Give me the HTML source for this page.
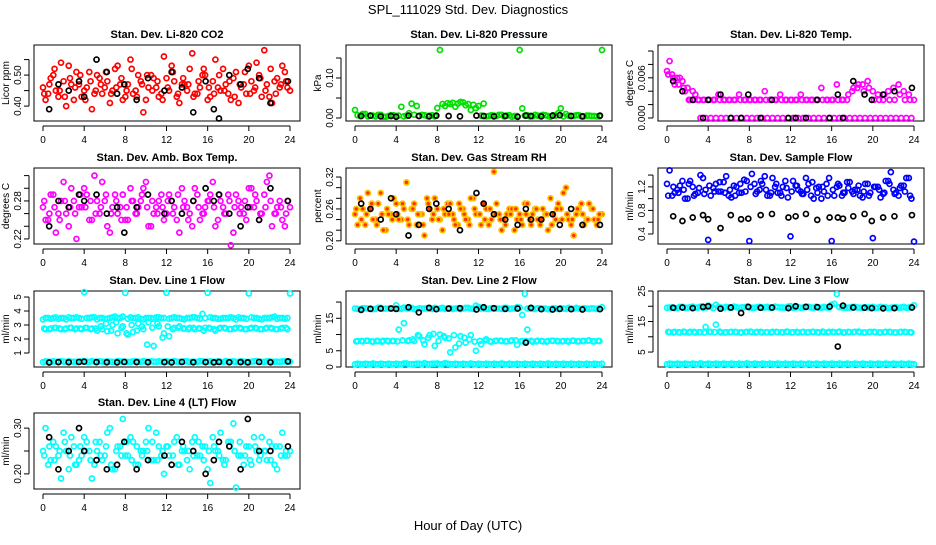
<!DOCTYPE html>
<html><head><meta charset="utf-8"><style>
body{margin:0;background:#fff}
svg text{font-family:"Liberation Sans",sans-serif}
</style></head><body>
<svg id="chart" width="936" height="540" viewBox="0 0 936 540" xmlns="http://www.w3.org/2000/svg">
<text x="468" y="14" text-anchor="middle" font-size="13">SPL_111029  Std. Dev. Diagnostics</text>
<text x="468" y="530" text-anchor="middle" font-size="13">Hour of Day (UTC)</text>
</svg>
<script>
const hoursA=[0,0.5,1,1.5,2,2.5,3,3.5,4,4.5,5,5.5,6,6.5,7,7.5,8,8.5,9,9.5,10,10.5,11,11.5,12,12.5,13,13.5,14,14.5,15,15.5,16,16.5,17,17.5,18,18.5,19,19.5,20,20.5,21,21.5,22,22.5,23,23.5,24];
const hoursB=[0.25,0.75,1.25,1.75,2.25,2.75,3.25,3.75,4.25,4.75,5.25,5.75,6.25,6.75,7.25,7.75,8.25,8.75,9.25,9.75,10.25,10.75,11.25,11.75,12.25,12.75,13.25,13.75,14.25,14.75,15.25,15.75,16.25,16.75,17.25,17.75,18.25,18.75,19.25,19.75,20.25,20.75,21.25,21.75,22.25,22.75,23.25,23.75];
const hoursC=[0.12,0.62,1.12,1.62,2.12,2.62,3.12,3.62,4.12,4.62,5.12,5.62,6.12,6.62,7.12,7.62,8.12,8.62,9.12,9.62,10.12,10.62,11.12,11.62,12.12,12.62,13.12,13.62,14.12,14.62,15.12,15.62,16.12,16.62,17.12,17.62,18.12,18.62,19.12,19.62,20.12,20.62,21.12,21.62,22.12,22.62,23.12,23.62];
const hoursK=[0.6,1.5,2.5,3.5,4,5.2,6.2,7.2,7.9,9.1,10.2,11.8,12.5,13.5,14.6,15.8,16.6,17.1,18.1,19.2,19.9,21.0,22.1,23.8];
const xTicks=[0,4,8,12,16,20,24];

const co2A=[0.46,0.44,0.50,0.43,0.48,0.53,0.42,0.47,0.45,0.51,0.44,0.49,0.46,0.41,0.52,0.47,0.43,0.55,0.45,0.48,0.42,0.50,0.46,0.44,0.49,0.53,0.43,0.47,0.45,0.57,0.44,0.50,0.42,0.48,0.46,0.52,0.44,0.49,0.41,0.47,0.53,0.45,0.50,0.58,0.43,0.48,0.46,0.51,0.45];
const co2B=[0.42,0.49,0.45,0.54,0.40,0.47,0.51,0.43,0.46,0.39,0.50,0.44,0.48,0.45,0.53,0.42,0.47,0.44,0.50,0.38,0.46,0.49,0.43,0.56,0.45,0.48,0.41,0.47,0.52,0.44,0.46,0.50,0.43,0.55,0.45,0.47,0.42,0.51,0.46,0.44,0.48,0.54,0.43,0.47,0.41,0.49,0.53,0.46];
const co2C=[0.44,0.47,0.52,0.45,0.43,0.49,0.46,0.50,0.42,0.48,0.45,0.47,0.51,0.44,0.46,0.49,0.45,0.52,0.43,0.47,0.50,0.45,0.48,0.42,0.46,0.51,0.44,0.49,0.47,0.43,0.48,0.52,0.46,0.44,0.50,0.45,0.48,0.43,0.47,0.51,0.44,0.46,0.49,0.45,0.52,0.44,0.47,0.48];
const co2K=[0.39,0.47,0.45,0.48,0.43,0.55,0.51,0.44,0.47,0.42,0.49,0.45,0.51,0.46,0.38,0.48,0.39,0.36,0.50,0.47,0.52,0.49,0.41,0.48];

const presA=[0.02,0.005,0.01,0.006,0.004,0.008,0.003,0.007,0.005,0.028,0.006,0.036,0.03,0.008,0.005,0.007,0.025,0.035,0.037,0.038,0.036,0.039,0.035,0.033,0.03,0.036,0.005,0.006,0.008,0.004,0.007,0.005,0.17,0.006,0.004,0.008,0.005,0.007,0.003,0.006,0.024,0.01,0.005,0.007,0.004,0.006,0.005,0.004,0.17];
const presB=[0.007,0.01,0.004,0.006,0.008,0.003,0.005,0.007,0.006,0.004,0.012,0.008,0.005,0.007,0.006,0.004,0.17,0.03,0.035,0.028,0.04,0.032,0.02,0.025,0.006,0.004,0.007,0.005,0.008,0.006,0.003,0.005,0.024,0.007,0.004,0.006,0.008,0.005,0.007,0.012,0.004,0.006,0.005,0.007,0.004,0.006,0.005,0.004];
const presK=[0.005,0.006,0.004,0.005,0.003,0.006,0.005,0.004,0.006,0.005,0.004,0.006,0.005,0.004,0.005,0.003,0.006,0.005,0.004,0.006,0.007,0.005,0.004,0.006];

const tempA=[0.007,0.0065,0.006,0.0055,0.0045,0.004,0.0027,0.0027,0.0027,0.0027,0.0035,0.0027,0.0027,0.0027,0.0035,0.0027,0.0027,0.0027,0.0027,0.004,0.0027,0.0027,0.0035,0.0027,0.0027,0.0027,0.0035,0.0027,0.0027,0.0027,0.0045,0.0027,0.0027,0.005,0.0027,0.0027,0.004,0.0045,0.005,0.0055,0.004,0.0035,0.0027,0.004,0.0045,0.005,0.004,0.0035,0.0027];
const tempB=[0.0085,0.005,0.006,0.004,0.0027,0.0035,0,0,0,0,0,0,0,0,0,0,0,0,0,0,0,0,0,0,0,0,0,0,0,0,0,0,0,0,0,0,0,0,0,0,0,0,0,0,0,0,0,0];
const tempC=[0.0065,0.006,0.005,0.0045,0.0027,0.0027,0.0027,0.0027,0.0027,0.0027,0.0027,0.0027,0.0027,0.0027,0.0027,0.0027,0.0027,0.0027,0.0027,0.0027,0.0027,0.0027,0.0027,0.0027,0.0027,0.0027,0.0027,0.0027,0.0027,0.0027,0.0027,0.0027,0.0027,0.0027,0.0027,0.0035,0.0045,0.005,0.004,0.0045,0.0027,0.0027,0.0035,0.0027,0.0027,0.0035,0.0027,0.0027];
const tempK=[0.0055,0.004,0.0027,0,0.0027,0.0035,0,0,0.0035,0,0.0027,0,0,0,0.0027,0,0.0035,0,0.0055,0.0035,0.0027,0.0035,0.004,0.0045];

const ambA=[0.27,0.25,0.29,0.26,0.31,0.24,0.28,0.27,0.30,0.25,0.32,0.26,0.28,0.23,0.29,0.27,0.25,0.30,0.26,0.28,0.31,0.24,0.27,0.29,0.26,0.28,0.25,0.30,0.27,0.24,0.29,0.26,0.28,0.31,0.25,0.27,0.29,0.23,0.28,0.26,0.30,0.27,0.25,0.29,0.32,0.26,0.28,0.24,0.27];
const ambB=[0.25,0.29,0.23,0.28,0.26,0.30,0.22,0.27,0.29,0.25,0.28,0.31,0.24,0.27,0.26,0.29,0.25,0.28,0.27,0.30,0.24,0.26,0.28,0.25,0.29,0.27,0.23,0.28,0.26,0.30,0.25,0.27,0.29,0.24,0.28,0.26,0.21,0.29,0.27,0.25,0.30,0.28,0.26,0.31,0.24,0.27,0.25,0.28];
const ambC=[0.28,0.26,0.27,0.25,0.28,0.27,0.26,0.29,0.27,0.28,0.26,0.27,0.29,0.26,0.28,0.25,0.27,0.28,0.26,0.29,0.27,0.28,0.26,0.27,0.28,0.26,0.29,0.27,0.25,0.28,0.27,0.26,0.28,0.27,0.29,0.26,0.28,0.27,0.26,0.28,0.27,0.29,0.26,0.27,0.28,0.26,0.27,0.26];
const ambK=[0.24,0.28,0.27,0.29,0.28,0.29,0.26,0.27,0.23,0.27,0.29,0.26,0.28,0.26,0.28,0.30,0.28,0.29,0.26,0.24,0.27,0.25,0.30,0.28];

const rhA=[0.25,0.28,0.23,0.26,0.24,0.29,0.22,0.25,0.27,0.24,0.31,0.26,0.23,0.25,0.28,0.24,0.26,0.22,0.27,0.25,0.23,0.26,0.24,0.28,0.25,0.27,0.23,0.33,0.25,0.24,0.26,0.22,0.25,0.27,0.24,0.26,0.23,0.25,0.28,0.24,0.26,0.30,0.23,0.25,0.27,0.24,0.26,0.23,0.25];
const rhB=[0.23,0.26,0.29,0.24,0.27,0.22,0.25,0.28,0.24,0.26,0.23,0.27,0.25,0.21,0.26,0.28,0.24,0.25,0.27,0.23,0.26,0.24,0.28,0.25,0.23,0.26,0.24,0.27,0.22,0.25,0.26,0.24,0.23,0.27,0.25,0.24,0.26,0.22,0.25,0.27,0.29,0.24,0.21,0.26,0.23,0.27,0.24,0.25];
const rhC=[0.26,0.24,0.25,0.27,0.23,0.25,0.26,0.24,0.25,0.27,0.24,0.26,0.25,0.23,0.27,0.25,0.24,0.26,0.25,0.24,0.27,0.25,0.23,0.26,0.25,0.24,0.26,0.25,0.24,0.23,0.25,0.26,0.24,0.25,0.23,0.26,0.24,0.25,0.23,0.26,0.24,0.25,0.24,0.26,0.25,0.24,0.26,0.24];
const rhK=[0.27,0.26,0.24,0.28,0.25,0.21,0.23,0.26,0.27,0.26,0.22,0.29,0.27,0.25,0.24,0.23,0.26,0.24,0.24,0.25,0.23,0.26,0.23,0.23];

const sfA=[1.25,1.05,1.15,1.30,1.00,1.20,1.10,1.35,0.30,1.18,1.12,1.28,1.05,1.22,1.10,1.32,0.28,1.25,1.15,1.38,1.05,1.20,1.10,1.30,0.36,1.22,1.12,1.35,1.05,1.18,1.00,1.25,0.28,1.20,1.05,1.28,1.12,1.15,1.02,1.25,0.33,1.20,1.08,1.30,1.15,1.05,1.22,1.35,0.27];
const sfB=[1.48,1.10,1.22,1.00,1.30,1.08,1.40,1.15,1.05,1.25,1.12,1.38,1.02,1.20,1.10,1.30,1.42,1.12,1.25,1.05,1.35,1.10,1.20,1.02,1.30,1.15,1.08,1.25,1.00,1.20,1.12,1.35,1.05,1.22,1.10,1.28,1.15,1.05,1.25,1.10,1.20,1.02,1.30,1.45,1.10,1.22,1.35,1.00];
const sfC=[1.05,1.20,1.10,1.15,1.25,1.05,1.18,1.08,1.22,1.12,1.28,1.10,1.15,1.05,1.25,1.12,1.20,1.08,1.30,1.15,1.10,1.25,1.05,1.18,1.12,1.22,1.08,1.15,1.28,1.10,1.20,1.05,1.15,1.25,1.10,1.18,1.08,1.22,1.12,1.05,1.20,1.15,1.10,1.25,1.08,1.18,1.12,1.05];
const sfK=[0.70,0.62,0.68,0.72,0.65,0.50,0.72,0.65,0.66,0.72,0.74,0.68,0.70,0.74,0.64,0.68,0.68,0.66,0.70,0.74,0.62,0.68,0.70,0.72];

const l1A=[3.4,3.5,3.5,3.45,3.5,3.55,3.5,3.5,5.35,3.5,3.55,3.5,3.45,3.5,3.6,3.5,5.3,3.55,3.5,3.45,3.5,3.5,3.55,3.5,5.3,3.5,3.5,3.45,3.5,3.55,3.5,3.8,5.3,3.5,3.45,3.5,3.5,3.5,3.55,3.5,5.25,3.5,3.45,3.5,3.5,3.6,3.5,3.45,5.25];
const l1D=[3.5,3.45,3.55,3.5,3.4,3.5,3.55,3.45,3.5,3.55,3.4,3.5,3.45,3.55,3.5,3.6,3.45,3.5,3.55,3.4,3.5,3.45,3.55,3.5,3.45,3.55,3.5,3.4,3.5,3.55,3.45,3.5,3.55,3.5,3.45,3.5,3.55,3.4,3.5,3.45,3.55,3.5,3.4,3.5,3.55,3.45,3.5,3.5];
const l1B=[2.7,2.75,2.8,2.7,2.75,2.8,2.75,2.7,2.8,2.75,2.6,2.7,2.55,3.0,2.4,2.9,2.3,2.5,3.1,2.7,3.2,1.5,2.9,2.4,2.2,2.8,2.9,2.75,2.8,2.7,2.75,2.8,2.75,2.6,2.8,2.75,2.7,2.8,2.75,2.7,2.8,2.75,2.7,2.8,2.75,2.7,2.8,2.7];
const l1E=[2.75,2.7,2.8,2.75,2.7,2.8,2.7,2.75,2.8,2.7,2.75,2.9,3.1,2.6,3.2,2.8,2.4,3.0,2.6,2.9,1.6,2.8,3.1,2.1,2.9,2.7,2.8,2.75,2.7,2.8,2.75,2.6,2.8,2.7,2.75,2.8,2.7,2.75,2.8,2.7,2.75,2.8,2.7,2.75,2.8,2.7,2.75,2.8];
const l1C=[0.35,0.38,0.4,0.36,0.38,0.4,0.37,0.38,0.42,0.36,0.38,0.4,0.37,0.38,0.36,0.4,0.38,0.37,0.4,0.36,0.38,0.4,0.37,0.38,0.4,0.36,0.38,0.37,0.4,0.38,0.36,0.4,0.38,0.37,0.4,0.36,0.38,0.4,0.37,0.38,0.36,0.4,0.38,0.37,0.4,0.38,0.36,0.4,0.38];
const l1F=[0.4,0.36,0.38,0.42,0.37,0.39,0.36,0.4,0.38,0.42,0.36,0.38,0.4,0.37,0.42,0.38,0.36,0.4,0.38,0.42,0.37,0.38,0.4,0.36,0.38,0.42,0.37,0.4,0.36,0.38,0.42,0.37,0.4,0.38,0.36,0.42,0.38,0.37,0.4,0.36,0.38,0.42,0.37,0.4,0.36,0.38,0.4,0.37];
const l1K=[0.32,0.35,0.34,0.36,0.38,0.35,0.34,0.33,0.36,0.35,0.34,0.35,0.33,0.36,0.34,0.35,0.33,0.36,0.34,0.35,0.33,0.36,0.34,0.4];

const l2A=[18.0,17.8,18.1,18.0,17.9,18.2,18.0,18.1,19.0,17.9,18.0,18.2,17.8,18.0,18.1,17.9,18.0,18.2,18.0,17.9,18.1,18.0,18.2,17.9,18.5,18.0,17.9,18.1,18.0,18.2,17.9,18.0,18.3,22.5,18.0,17.9,18.1,18.0,17.8,18.0,18.1,17.9,18.0,18.2,17.9,18.0,18.1,17.9,18.4];
const l2D=[17.9,18.1,18.0,17.8,18.2,17.9,18.0,18.1,17.9,18.3,18.0,17.8,18.1,18.0,17.9,18.2,18.0,17.9,18.1,18.0,17.8,18.2,18.0,18.9,18.0,17.9,18.1,18.0,17.9,18.2,18.0,18.4,16.0,18.0,17.9,18.1,18.0,17.8,18.1,17.9,18.0,18.2,17.9,18.0,18.1,17.9,18.0,18.1];
const l2B=[8.0,7.9,8.1,7.8,8.0,8.1,7.9,8.0,11.5,13.5,8.2,8.0,9.5,7.0,9.8,6.5,10.0,9.0,4.5,6.0,9.5,7.5,9.8,5.0,7.0,8.5,7.8,8.1,8.0,7.9,8.2,6.8,8.0,11.5,7.8,8.1,7.9,8.0,8.1,7.9,8.0,7.8,8.1,7.9,8.0,8.2,7.9,8.0];
const l2E=[7.9,8.0,8.1,7.9,8.0,7.8,8.1,8.0,7.9,8.2,8.0,8.5,9.8,8.2,9.0,10.2,8.0,9.5,8.8,9.8,7.2,9.0,8.5,7.8,8.0,8.2,7.9,8.0,8.1,7.9,8.0,8.2,7.9,8.0,8.1,7.9,8.0,7.8,8.1,8.0,7.9,8.0,8.1,7.9,8.0,8.1,7.9,8.0];
const l2C=[0.8,0.9,1.0,0.8,0.9,1.0,0.8,0.9,1.0,0.8,1.1,0.9,1.0,0.8,0.9,1.0,1.1,0.9,1.0,0.8,0.9,1.0,0.8,0.9,1.0,0.8,0.9,1.0,0.8,0.9,1.0,0.8,0.9,1.0,0.8,0.9,1.0,0.8,0.9,1.0,0.8,0.9,1.0,0.8,0.9,1.0,0.8,0.9,1.0];
const l2F=[1.0,0.8,0.9,1.1,0.8,0.9,1.0,0.8,0.9,1.1,0.8,0.9,1.0,1.2,0.9,1.0,0.8,1.2,0.9,1.0,0.8,0.9,1.1,0.8,0.9,1.0,0.8,0.9,1.1,0.8,0.9,1.0,0.8,0.9,1.0,0.8,0.9,1.1,0.8,0.9,1.0,0.8,0.9,1.0,0.8,0.9,1.0,0.8];
const l2K=[17.6,17.9,18.0,18.0,17.9,18.4,16.8,18.2,17.8,18.0,18.1,17.7,18.4,18.1,17.9,18.0,7.5,18.2,17.8,17.7,17.9,17.8,17.7,17.8];

const l3A=[19.5,19.6,19.4,19.8,19.5,19.9,19.6,19.5,20.2,19.4,19.8,19.5,19.6,19.9,19.5,19.7,19.6,19.5,19.8,19.6,19.5,19.9,19.6,19.5,20.0,19.6,19.5,19.8,19.6,19.9,19.5,19.6,20.5,24.0,19.6,19.5,19.8,19.6,19.5,19.6,19.8,19.5,19.6,19.4,19.6,19.5,19.8,19.6,20.3];
const l3D=[19.6,19.4,19.8,19.5,19.7,19.5,19.9,19.6,19.8,20.5,19.6,19.8,19.5,19.7,19.6,19.9,19.5,19.7,19.6,19.8,19.5,19.7,19.6,19.9,19.5,19.7,19.6,19.8,19.5,19.6,19.8,19.5,20.8,19.7,19.5,19.6,19.8,19.5,19.7,19.6,19.5,19.8,19.6,19.5,19.7,19.6,19.5,19.8];
const l3B=[11.5,11.6,11.4,11.5,11.6,11.4,11.5,13.2,11.6,14.0,11.4,11.5,11.6,11.5,11.4,11.6,11.5,11.6,11.4,11.5,11.6,11.5,11.4,11.6,11.5,11.4,11.6,11.5,11.6,11.4,11.5,11.6,11.5,11.7,11.4,11.5,11.6,11.5,11.4,11.6,11.5,11.4,11.6,11.5,11.4,11.6,11.5,11.4];
const l3E=[11.6,11.4,11.5,11.7,11.4,11.6,11.5,11.4,11.6,11.5,11.7,11.4,11.5,11.6,11.4,11.5,11.7,11.4,11.6,11.5,11.4,11.6,11.5,11.7,11.4,11.6,11.5,11.4,11.6,11.5,11.7,11.4,11.6,11.5,11.4,11.6,11.5,11.7,11.4,11.5,11.6,11.4,11.5,11.6,11.4,11.5,11.6,11.5];
const l3C=[1.0,1.1,1.2,1.0,1.1,1.2,1.0,1.1,1.2,1.0,1.1,1.2,1.0,1.1,1.2,1.0,1.1,1.2,1.0,1.1,1.2,1.0,1.1,1.2,1.0,1.1,1.2,1.0,1.1,1.2,1.0,1.1,1.2,1.0,1.1,1.2,1.0,1.1,1.2,1.0,1.1,1.2,1.0,1.1,1.2,1.0,1.1,1.2,1.0];
const l3F=[1.2,1.0,1.1,1.2,1.0,1.1,1.3,1.0,1.1,1.2,1.0,1.1,1.2,1.0,1.1,1.3,1.0,1.1,1.2,1.0,1.1,1.2,1.0,1.1,1.2,1.0,1.1,1.2,1.0,1.1,1.2,1.0,1.1,1.2,1.0,1.1,1.2,1.0,1.1,1.2,1.0,1.1,1.2,1.0,1.1,1.2,1.0,1.1];
const l3K=[19.5,19.6,19.4,19.8,20.0,19.2,19.6,17.8,19.8,19.5,19.6,19.4,20.0,19.8,19.7,19.9,6.8,20.2,19.6,19.5,19.4,19.3,19.4,19.6];

const l4A=[0.25,0.22,0.27,0.24,0.29,0.21,0.26,0.23,0.28,0.25,0.22,0.27,0.24,0.30,0.21,0.26,0.24,0.28,0.22,0.25,0.27,0.23,0.29,0.24,0.26,0.22,0.28,0.25,0.23,0.27,0.24,0.26,0.21,0.28,0.25,0.23,0.27,0.31,0.24,0.22,0.26,0.28,0.23,0.25,0.27,0.22,0.26,0.24,0.25];
const l4B=[0.30,0.23,0.26,0.19,0.25,0.28,0.22,0.24,0.27,0.19,0.25,0.23,0.29,0.21,0.26,0.32,0.24,0.27,0.22,0.25,0.30,0.23,0.26,0.20,0.24,0.27,0.22,0.25,0.21,0.28,0.24,0.26,0.18,0.25,0.29,0.23,0.27,0.17,0.24,0.26,0.22,0.25,0.28,0.23,0.26,0.21,0.29,0.24];
const l4C=[0.24,0.26,0.23,0.25,0.27,0.24,0.22,0.26,0.25,0.23,0.27,0.24,0.26,0.22,0.25,0.24,0.27,0.23,0.26,0.24,0.25,0.27,0.23,0.25,0.26,0.24,0.22,0.26,0.25,0.24,0.27,0.23,0.25,0.26,0.24,0.22,0.26,0.25,0.27,0.24,0.23,0.26,0.24,0.25,0.23,0.26,0.24,0.25];
const l4K=[0.28,0.21,0.25,0.30,0.25,0.23,0.21,0.22,0.27,0.21,0.23,0.24,0.22,0.27,0.25,0.20,0.23,0.27,0.26,0.21,0.32,0.25,0.25,0.26];

const NS='http://www.w3.org/2000/svg';
const svg=document.getElementById('chart');
function mk(tag,attrs,parent){const e=document.createElementNS(NS,tag);for(const k in attrs)e.setAttribute(k,attrs[k]);(parent||svg).appendChild(e);return e;}
const rowTops=[45,168,291,413];

function panel(p){
  const g=mk('g',{});
  
  
  const L=34+312*p.c, T=rowTops[p.r], W=266, H=76, B=T+H;
  const xs=h=>L+9+h/24*247;
  const ys=v=>B-(v-p.ymin)/(p.ymax-p.ymin)*H;
  const t=mk('text',{x:L+W/2,y:T-7,'text-anchor':'middle','font-size':11,'font-weight':'bold'},g);
  t.textContent=p.title;
  
  
  const box=mk('rect',{x:L,y:T,width:W,height:H,fill:'none',stroke:'#000','stroke-width':1},g);
  
  
  const xa=mk('g',{},g);
  
  
  mk('line',{x1:xs(0),x2:xs(24),y1:B+5,y2:B+5,stroke:'#000'},xa);
  xTicks.forEach(h=>{mk('line',{x1:xs(h),x2:xs(h),y1:B+5,y2:B+10,stroke:'#000'},xa);
    const tl=mk('text',{x:xs(h),y:B+22,'text-anchor':'middle','font-size':10},xa);tl.textContent=h;});
  const ya=mk('g',{},g);
  
  
  mk('line',{x1:L-5,x2:L-5,y1:ys(p.ticks[0]),y2:ys(p.ticks[p.ticks.length-1]),stroke:'#000'},ya);
  p.ticks.forEach((v,i)=>{const y=ys(v);mk('line',{x1:L-10,x2:L-5,y1:y,y2:y,stroke:'#000'},ya);
    if(p.labels[i]){const tl=mk('text',{x:L-13,y:y,'text-anchor':'middle','font-size':10,transform:`rotate(-90 ${L-13} ${y})`},ya);tl.textContent=p.labels[i];}});
  const yl=mk('text',{x:L-25,y:T+H/2,'text-anchor':'middle','font-size':10,transform:`rotate(-90 ${L-25} ${T+H/2})`},ya);
  yl.textContent=p.ylab;
  p.series.forEach(s=>{
    const sg=mk('g',{},g);
    
    
    s.ys.forEach((v,i)=>{const c=mk('circle',{cx:xs(s.xs[i]),cy:ys(v),r:2.5,fill:s.fill||'none',stroke:s.color,'stroke-width':1.7},sg);
      
      });
  });
}
const R='#ff0000',G='#00e000',M='#ff00ff',Bl='#0000ff',C='#00ffff',K='#000000',O='#ffc000';
panel({name:'co2-panel',c:0,r:0,title:'Stan. Dev. Li-820 CO2',ylab:'Licor ppm',ymin:0.352,ymax:0.597,ticks:[0.40,0.45,0.50,0.55],labels:['0.40','','0.50',''],
  series:[{name:'co2-series-a',xs:hoursA,ys:co2A,color:R},{name:'co2-series-b',xs:hoursB,ys:co2B,color:R},{name:'co2-series-c',xs:hoursC,ys:co2C,color:R},{name:'co2-black',xs:hoursK,ys:co2K,color:K}]});
panel({name:'pressure-panel',c:1,r:0,title:'Stan. Dev. Li-820 Pressure',ylab:'kPa',ymin:-0.0075,ymax:0.1825,ticks:[0,0.05,0.10,0.15],labels:['0.00','','0.10',''],
  series:[{name:'pressure-series-a',xs:hoursA,ys:presA,color:G},{name:'pressure-series-b',xs:hoursB,ys:presB,color:G},{name:'pressure-black',xs:hoursK,ys:presK,color:K}]});
panel({name:'temp-panel',c:2,r:0,title:'Stan. Dev. Li-820 Temp.',ylab:'degrees C',ymin:-0.00045,ymax:0.0109,ticks:[0,0.002,0.004,0.006,0.008,0.010],labels:['0.000','','','0.006','',''],
  series:[{name:'temp-series-a',xs:hoursA,ys:tempA,color:M},{name:'temp-series-b',xs:hoursB,ys:tempB,color:M},{name:'temp-series-c',xs:hoursC,ys:tempC,color:M},{name:'temp-black',xs:hoursK,ys:tempK,color:K}]});
panel({name:'amb-temp-panel',c:0,r:1,title:'Stan. Dev. Amb. Box Temp.',ylab:'degrees C',ymin:0.212,ymax:0.332,ticks:[0.22,0.24,0.26,0.28,0.30,0.32],labels:['0.22','','','0.28','',''],
  series:[{name:'amb-series-a',xs:hoursA,ys:ambA,color:M},{name:'amb-series-b',xs:hoursB,ys:ambB,color:M},{name:'amb-series-c',xs:hoursC,ys:ambC,color:M},{name:'amb-black',xs:hoursK,ys:ambK,color:K}]});
panel({name:'rh-panel',c:1,r:1,title:'Stan. Dev. Gas Stream RH',ylab:'percent',ymin:0.194,ymax:0.337,ticks:[0.20,0.22,0.24,0.26,0.28,0.30,0.32],labels:['0.20','','','0.26','','','0.32'],
  series:[{name:'rh-series-a',xs:hoursA,ys:rhA,color:O,fill:'#ff3000'},{name:'rh-series-b',xs:hoursB,ys:rhB,color:O,fill:'#ff3000'},{name:'rh-series-c',xs:hoursC,ys:rhC,color:O,fill:'#ff3000'},{name:'rh-black',xs:hoursK,ys:rhK,color:K}]});
panel({name:'sample-flow-panel',c:2,r:1,title:'Stan. Dev. Sample Flow',ylab:'ml/min',ymin:0.23,ymax:1.52,ticks:[0.4,0.6,0.8,1.0,1.2,1.4],labels:['0.4','','0.8','','1.2',''],
  series:[{name:'sample-series-a',xs:hoursA,ys:sfA,color:Bl},{name:'sample-series-b',xs:hoursB,ys:sfB,color:Bl},{name:'sample-series-c',xs:hoursC,ys:sfC,color:Bl},{name:'sample-black',xs:hoursK,ys:sfK,color:K}]});
panel({name:'line1-panel',c:0,r:2,title:'Stan. Dev. Line 1 Flow',ylab:'ml/min',ymin:0,ymax:5.43,ticks:[1,2,3,4,5],labels:['1','2','3','4','5'],
  series:[{name:'line1-upper',xs:hoursA,ys:l1A,color:C},{name:'line1-upper-b',xs:hoursB,ys:l1D,color:C},{name:'line1-middle',xs:hoursB,ys:l1B,color:C},{name:'line1-middle-b',xs:hoursC,ys:l1E,color:C},{name:'line1-lower',xs:hoursA,ys:l1C,color:C},{name:'line1-lower-b',xs:hoursB,ys:l1F,color:C},{name:'line1-black',xs:hoursK,ys:l1K,color:K}]});
panel({name:'line2-panel',c:1,r:2,title:'Stan. Dev. Line 2 Flow',ylab:'ml/min',ymin:0,ymax:23.4,ticks:[0,5,10,15,20],labels:['0','5','','15',''],
  series:[{name:'line2-upper',xs:hoursA,ys:l2A,color:C},{name:'line2-upper-b',xs:hoursB,ys:l2D,color:C},{name:'line2-middle',xs:hoursB,ys:l2B,color:C},{name:'line2-middle-b',xs:hoursC,ys:l2E,color:C},{name:'line2-lower',xs:hoursA,ys:l2C,color:C},{name:'line2-lower-b',xs:hoursB,ys:l2F,color:C},{name:'line2-black',xs:hoursK,ys:l2K,color:K}]});
panel({name:'line3-panel',c:2,r:2,title:'Stan. Dev. Line 3 Flow',ylab:'ml/min',ymin:0.1,ymax:25,ticks:[5,10,15,20,25],labels:['5','','15','','25'],
  series:[{name:'line3-upper',xs:hoursA,ys:l3A,color:C},{name:'line3-upper-b',xs:hoursB,ys:l3D,color:C},{name:'line3-middle',xs:hoursB,ys:l3B,color:C},{name:'line3-middle-b',xs:hoursC,ys:l3E,color:C},{name:'line3-lower',xs:hoursA,ys:l3C,color:C},{name:'line3-lower-b',xs:hoursB,ys:l3F,color:C},{name:'line3-black',xs:hoursK,ys:l3K,color:K}]});
panel({name:'line4-panel',c:0,r:3,title:'Stan. Dev. Line 4 (LT) Flow',ylab:'ml/min',ymin:0.167,ymax:0.333,ticks:[0.20,0.25,0.30],labels:['0.20','','0.30'],
  series:[{name:'line4-series-a',xs:hoursA,ys:l4A,color:C},{name:'line4-series-b',xs:hoursB,ys:l4B,color:C},{name:'line4-series-c',xs:hoursC,ys:l4C,color:C},{name:'line4-black',xs:hoursK,ys:l4K,color:K}]});
</script>
</body></html>
